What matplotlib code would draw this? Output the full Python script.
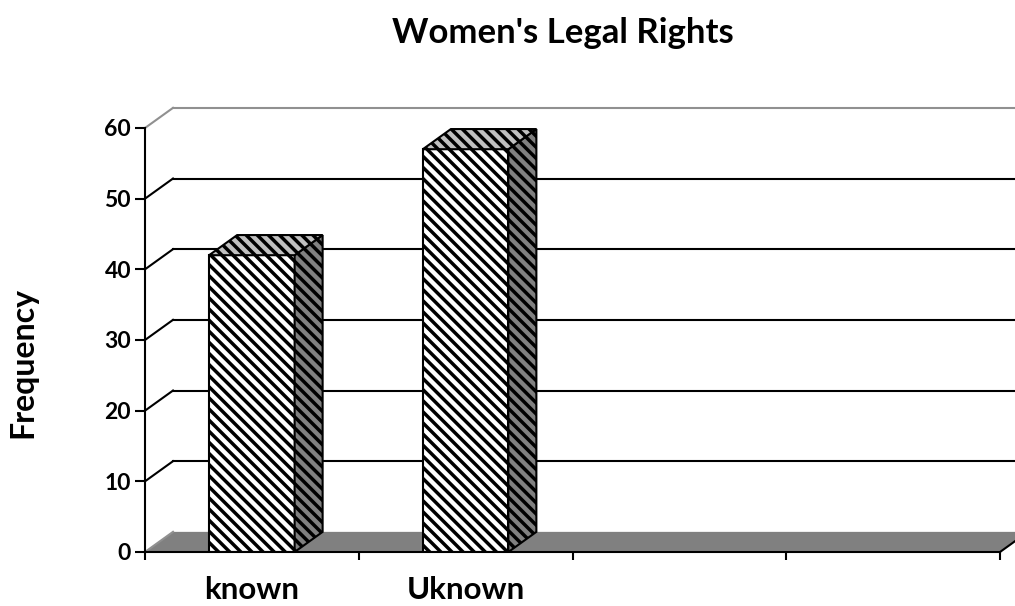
import numpy as np
import matplotlib.pyplot as plt
from matplotlib.patches import Polygon

plt.rcParams['font.family'] = ['Lato', 'DejaVu Sans']
plt.rcParams['font.weight'] = 'bold'
plt.rcParams['hatch.linewidth'] = 2.5

categories = ['known', 'Uknown', '', '']
values = [42, 57]
yticks = [0, 10, 20, 30, 40, 50, 60]

# fake 3d depth, in data units
dx = 0.131
dy = 2.85
width = 0.4
hatch = '\\\\\\'

fig = plt.figure(figsize=(10.15, 6.06), dpi=100)
ax = fig.add_axes([145/1015, 54/606, 855/1015, 424/606])
ax.set_xlim(0, len(categories))
ax.set_ylim(0, 60)

# floor
n = len(categories)
floor = Polygon([(0, 0), (dx, dy), (n + dx, dy), (n, 0)], closed=True,
                facecolor='#808080', edgecolor='none', zorder=1, clip_on=False)
ax.add_patch(floor)

# back wall gridlines + left wall diagonals
for t in yticks[1:]:
    c = '#909090' if t == 60 else 'black'
    ax.plot([dx, n + dx + 0.2], [t + dy, t + dy], color=c, lw=1.5, clip_on=False, zorder=1)
    ax.plot([0, dx], [t, t + dy], color=c, lw=1.5, clip_on=False, zorder=1)
ax.plot([0, dx], [0, dy], color='#909090', lw=1.5, clip_on=False, zorder=1)
ax.plot([n, n + dx], [0, dy], color='black', lw=1.5, clip_on=False, zorder=1)

# bars
x = np.arange(len(values)) + 0.5
ax.bar(x, values, width=width, facecolor='white', edgecolor='black',
       hatch=hatch, lw=1.5, zorder=3)
for xi, v in zip(x, values):
    r = xi + width / 2
    l = xi - width / 2
    side = Polygon([(r, 0), (r + dx, dy), (r + dx, v + dy), (r, v)], closed=True,
                   facecolor='#808080', edgecolor='black', hatch=hatch, lw=1.5,
                   zorder=3, clip_on=False)
    top = Polygon([(l, v), (l + dx, v + dy), (r + dx, v + dy), (r, v)], closed=True,
                  facecolor='#c0c0c0', edgecolor='black', hatch=hatch, lw=1.5,
                  zorder=3, clip_on=False)
    ax.add_patch(side)
    ax.add_patch(top)

for s in ['top', 'right']:
    ax.spines[s].set_visible(False)
ax.spines['left'].set_linewidth(1.5)
ax.spines['bottom'].set_linewidth(1.5)
ax.spines['bottom'].set_zorder(4)

ax.set_yticks(yticks)
ax.set_yticklabels([str(t) for t in yticks], fontsize=16.5, fontweight='bold')
ax.tick_params(axis='y', length=7, width=1.5, pad=3)
ax.set_xticks(np.arange(n + 1))
ax.set_xticklabels([])
ax.tick_params(axis='x', which='major', length=6, width=1.5, direction='out')
ax.set_xticks(np.arange(n) + 0.5, minor=True)
ax.set_xticklabels(categories, minor=True, fontsize=22.5, fontweight='bold')
ax.tick_params(axis='x', which='minor', length=0, pad=17)

ax.set_ylabel('Frequency', fontsize=23, fontweight='bold', va='center')
ax.yaxis.set_label_coords(-0.143, 0.446)
fig.text(563/1015, 1 - 33/606, "Women's Legal Rights", ha='center', va='center',
         fontsize=25, fontweight='bold')

fig.savefig('out.png', dpi=100)
